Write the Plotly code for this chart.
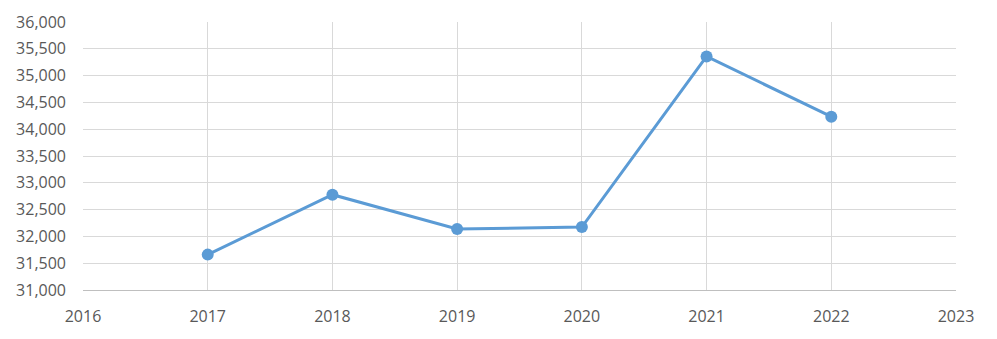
import plotly.graph_objects as go

years = [2017, 2018, 2019, 2020, 2021, 2022]
values = [31660, 32778, 32138, 32175, 35358, 34233]
x_ticks = [2016, 2017, 2018, 2019, 2020, 2021, 2022, 2023]
y_ticks = list(range(31000, 36001, 500))

fig = go.Figure()
fig.add_trace(go.Scatter(
    x=years, y=values, mode="lines+markers",
    line=dict(color="#5B9BD5", width=3),
    marker=dict(color="#5B9BD5", size=12),
    showlegend=False, cliponaxis=False,
))

font = dict(family="Open Sans", size=16, color="#595959")
fig.update_layout(
    width=997, height=339,
    margin=dict(l=83, r=41, t=22, b=49),
    paper_bgcolor="white", plot_bgcolor="white",
    font=font,
    xaxis=dict(
        range=[2016, 2023], tickmode="array", tickvals=x_ticks,
        ticktext=[str(t) for t in x_ticks],
        showgrid=True, gridcolor="#D9D9D9", gridwidth=1,
        zeroline=False, showline=True, linecolor="#BFBFBF", linewidth=1,
        ticks="", ticklabelstandoff=12, tickfont=font, mirror=False,
    ),
    yaxis=dict(
        range=[31000, 36000], tickmode="array", tickvals=y_ticks,
        ticktext=[f"{v:,}" for v in y_ticks],
        showgrid=True, gridcolor="#D9D9D9", gridwidth=1,
        zeroline=False, showline=False,
        ticks="", ticklabelstandoff=16, tickfont=font,
    ),
)

fig.write_html("out.html")
